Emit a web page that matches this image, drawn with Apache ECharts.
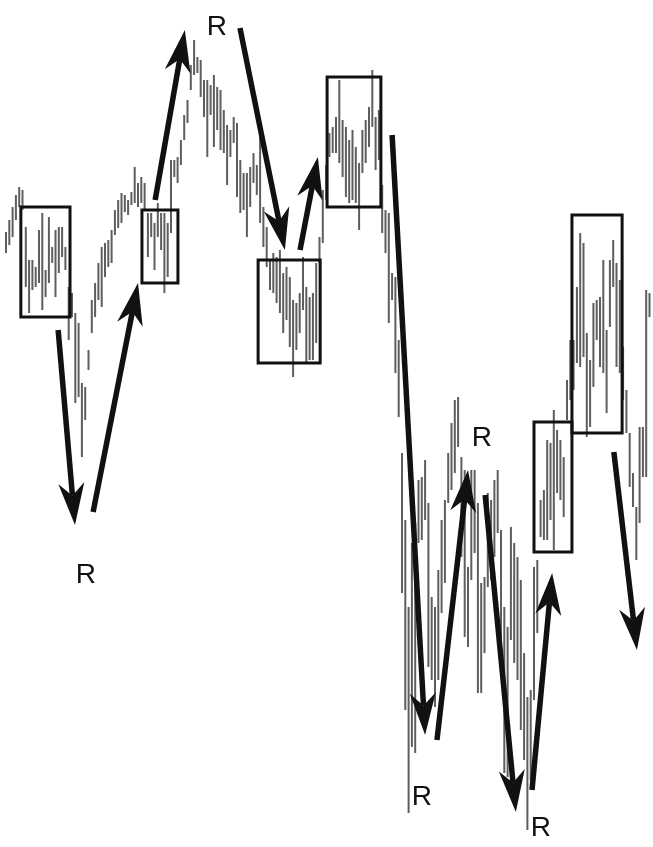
<!DOCTYPE html>
<html><head><meta charset="utf-8">
<script src="https://cdn.jsdelivr.net/npm/echarts@6/dist/echarts.min.js"></script>
<style>html,body{margin:0;padding:0;background:#fff}#c{width:653px;height:847px}</style>
</head><body><div id="c"></div>
<script>
// price bars (high / low), one per session
const barHigh = [618,630,643,655,663,660,623,590,590,583,620,637,580,633,603,620,623,623,603,563,
557,537,527,467,463,500,550,567,587,603,607,610,620,640,650,657,655,650,658,683,
667,673,667,637,637,627,647,637,637,627,690,690,693,710,735,750,785,810,793,790,
770,770,765,775,763,760,740,725,720,733,727,690,677,677,683,697,685,723,643,623,
590,597,593,600,577,583,573,550,547,557,593,563,553,557,587,613,660,685,717,723,
733,770,730,723,710,720,703,687,720,730,743,780,733,740,665,640,637,577,573,510,
397,330,243,307,327,370,373,390,347,253,243,280,330,350,397,427,450,453,393,380,
283,380,380,347,267,273,357,350,370,380,320,243,223,323,307,293,270,197,153,160,
283,290,350,360,410,407,440,420,410,393,470,510,510,563,617,607,517,490,547,550,
553,590,520,590,610,587,570,503,460,417,377,343,423,423,560,557];
const barLow = [597,605,613,630,643,640,563,537,560,563,567,540,553,567,587,553,577,593,580,510,
533,447,453,393,430,480,517,533,550,543,573,583,587,615,622,627,638,635,645,647,
643,647,640,593,613,580,613,600,557,573,617,673,667,685,710,727,760,775,777,753,
733,693,735,703,720,700,697,665,693,707,653,637,640,613,643,667,655,627,603,583,
560,557,547,537,517,530,503,473,500,517,540,487,490,490,507,587,607,650,693,697,
697,687,673,653,647,650,647,620,677,687,703,723,680,690,617,597,527,550,477,433,
257,140,37,103,97,307,310,330,183,170,143,170,237,267,347,360,377,403,293,213,
203,270,297,157,157,197,263,270,293,317,210,77,73,210,187,170,120,90,20,70,
150,217,313,310,310,330,300,357,350,333,430,450,460,487,483,493,413,423,463,510,
483,477,437,523,563,483,477,450,417,363,343,290,327,373,373,533];

// rectangles around consolidation zones (bar index range, price range)
const boxStart = [4.5, 41.2, 76.4, 97.3, 160.0, 171.5];
const boxEnd   = [19.4, 52.1, 95.2, 113.6, 171.5, 186.7];
const boxTop   = [643, 640, 590, 773, 428, 635];
const boxBottom= [533, 567, 487, 643, 298, 417];

// swing arrows (from bar/price to bar/price)
const arrowFromX = [15.8, 26.4, 45.2, 70.9, 89.1, 117.0, 130.6, 145.2, 159.4, 184.2];
const arrowFromY = [520, 338, 650, 822, 600, 715, 110, 355, 60, 398];
const arrowToX   = [20.9, 40.0, 54.2, 84.5, 94.5, 127.0, 140.0, 154.5, 165.5, 191.2];
const arrowToY   = [325, 567, 820, 600, 693, 115, 380, 38, 277, 200];

// "R" labels
const labelX = [24.2, 63.9, 144.2, 126.0, 162.1];
const labelY = [275, 823, 412, 53, 22];
const labelText = ['R','R','R','R','R'];

const bars = barHigh.map((h,i)=>[i, h, barLow[i]]);
const boxes = boxStart.map((s,i)=>[s, boxTop[i], boxEnd[i], boxBottom[i]]);
const arrows = arrowFromX.map((x,i)=>[x, arrowFromY[i], arrowToX[i], arrowToY[i]]);
const labels = labelX.map((x,i)=>[x, labelY[i], labelText[i]]);

const chart = echarts.init(document.getElementById('c'), null, {renderer:'canvas'});
chart.setOption({
  animation:false,
  backgroundColor:'#fff',
  grid:{left:6, right:3.5, top:0, bottom:0},
  xAxis:{type:'value', min:0, max:195, show:false},
  yAxis:{type:'value', min:3, max:850, show:false},
  series:[
    {type:'custom', data:bars, encode:{x:0, y:[1,2]}, clip:false,
     renderItem:(p,api)=>{
       const a=api.coord([api.value(0), api.value(1)]);
       const b=api.coord([api.value(0), api.value(2)]);
       return {type:'line', shape:{x1:a[0],y1:a[1],x2:b[0],y2:b[1]},
               style:{stroke:'#5e5e5e', lineWidth:2}};
     }},
    {type:'custom', data:boxes, encode:{x:[0,2], y:[1,3]}, clip:false, z:3,
     renderItem:(p,api)=>{
       const a=api.coord([api.value(0), api.value(1)]);
       const b=api.coord([api.value(2), api.value(3)]);
       return {type:'rect', shape:{x:a[0], y:a[1], width:b[0]-a[0], height:b[1]-a[1]},
               style:{fill:null, stroke:'#111', lineWidth:3}};
     }},
    {type:'custom', data:arrows, encode:{x:[0,2], y:[1,3]}, clip:false, z:4,
     renderItem:(p,api)=>{
       const a=api.coord([api.value(0), api.value(1)]);
       const b=api.coord([api.value(2), api.value(3)]);
       let dx=b[0]-a[0], dy=b[1]-a[1]; const len=Math.hypot(dx,dy); dx/=len; dy/=len;
       const px=-dy, py=dx, L=42, W=13;
       const base=[b[0]-dx*L, b[1]-dy*L];
       const notch=[b[0]-dx*L*0.7, b[1]-dy*L*0.7];
       return {type:'group', children:[
         {type:'line', shape:{x1:a[0],y1:a[1],x2:notch[0],y2:notch[1]},
          style:{stroke:'#111', lineWidth:5.5, lineCap:'butt'}},
         {type:'polygon', shape:{points:[b,[base[0]+px*W, base[1]+py*W], notch, [base[0]-px*W, base[1]-py*W]]},
          style:{fill:'#111'}}
       ]};
     }},
    {type:'custom', data:labels, encode:{x:0, y:1}, clip:false, z:5,
     renderItem:(p,api)=>{
       const a=api.coord([api.value(0), api.value(1)]);
       return {type:'text', x:a[0], y:a[1],
               style:{text:labelText[p.dataIndex], fill:'#111', font:'28px "Liberation Sans", Arial, sans-serif',
                      align:'center', verticalAlign:'middle'}};
     }}
  ]
});
</script></body></html>
